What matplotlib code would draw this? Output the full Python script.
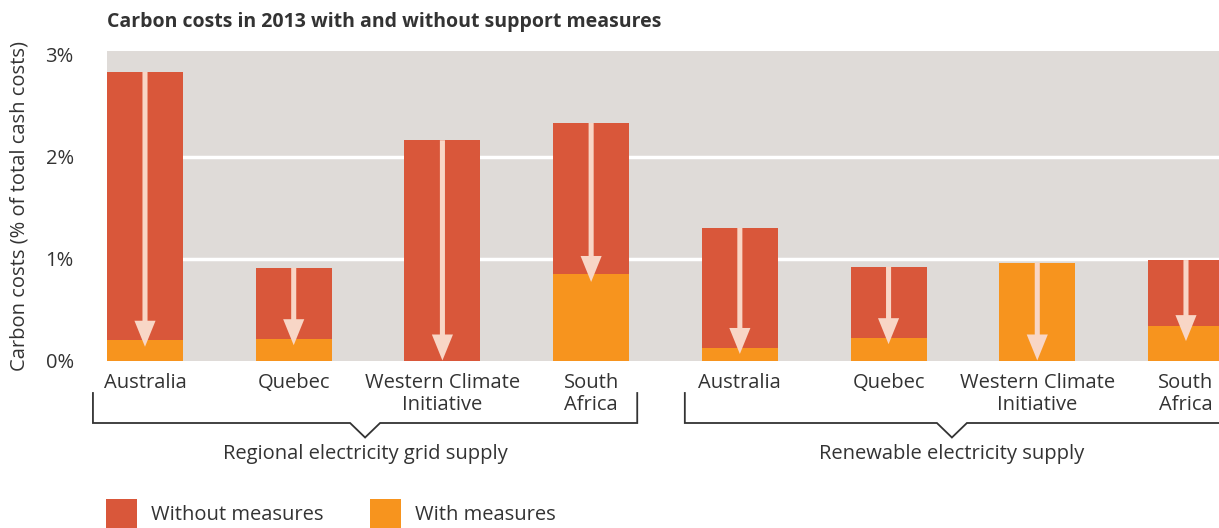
import matplotlib
matplotlib.use('Agg')
import matplotlib.pyplot as plt
import matplotlib.transforms as transforms
from matplotlib.patches import Rectangle, FancyArrow

plt.rcParams['font.family'] = ['Open Sans', 'DejaVu Sans']

categories = ['Australia', 'Quebec', 'Western Climate\nInitiative', 'South\nAfrica',
              'Australia', 'Quebec', 'Western Climate\nInitiative', 'South\nAfrica']
without_measures = [2.83, 0.91, 2.16, 2.33, 1.30, 0.92, 0.96, 0.985]
with_measures = [0.20, 0.21, 0.0, 0.85, 0.12, 0.22, 0.96, 0.34]
# where each arrow tip lands
arrow_end = [0.135, 0.15, 0.0, 0.77, 0.064, 0.16, 0.0, 0.19]
groups = ['Regional electricity grid supply', 'Renewable electricity supply']
yticks = [0, 1, 2, 3]
ytick_labels = ['0%', '1%', '2%', '3%']

red = '#d9573a'
orange = '#f7941e'
bg = '#dfdbd8'
arrow_c = '#f8d6c6'
txt = '#333333'
fs = 14.5

W, H = 1219, 528
fig = plt.figure(figsize=(W / 100, H / 100), dpi=100)
ax = fig.add_axes([107 / W, (H - 360.5) / H, (W - 107) / W, 309.5 / H])
ax.set_facecolor(bg)

x = list(range(len(categories)))
bw = 0.511
ax.bar(x, without_measures, width=bw, color=red, zorder=2)
ax.bar(x, with_measures, width=bw, color=orange, zorder=3)

ax.set_xlim(-0.2555, 7.222)
ax.set_ylim(0, 3.035)
ax.set_yticks(yticks)
ax.set_yticklabels(ytick_labels)
for yv in yticks[1:-1]:
    ax.axhline(yv, color='white', linewidth=2.5, zorder=1)
for s in ax.spines.values():
    s.set_visible(False)
ax.tick_params(axis='y', length=0, pad=24, labelsize=fs, labelcolor=txt)
ax.set_xticks(x)
ax.set_xticklabels(categories, fontsize=fs, color=txt, linespacing=1.1)
ax.tick_params(axis='x', length=0, pad=9)
ax.set_ylabel('Carbon costs (% of total cash costs)', fontsize=14.5, color=txt)
ax.yaxis.set_label_coords(-77 / (W - 107), 0.5)

# arrows from top of bar down to the with-measures level
px_per_unit = 309.5 / 3.035
for xi, top, end in zip(x, without_measures, arrow_end):
    ax.add_patch(FancyArrow(xi, top, 0, end - top, width=0.034, head_width=0.142,
                            head_length=26 / px_per_unit, length_includes_head=True,
                            color=arrow_c, linewidth=0, zorder=4))

# group brackets
tr = transforms.blended_transform_factory(ax.transData, fig.transFigure)
def fy(p):
    return (H - p) / H
brackets = [(-0.35, 3.31), (3.63, 7.3)]
for (l, r), name in zip(brackets, groups):
    rr = min(r, 7.222)
    c = (l + rr) / 2
    hw = 15 / 148.7
    xs = [l, l, c - hw, c, c + hw, r, r]
    ys = [fy(393), fy(423), fy(423), fy(437.5), fy(423), fy(423), fy(393)]
    ax.plot(xs, ys, color=txt, linewidth=1.3, transform=tr, clip_on=False,
            solid_joinstyle='miter')
    ax.text(c, fy(454), name, transform=tr, ha='center', va='center',
            fontsize=fs, color=txt)

fig.text(107 / W, fy(22), 'Carbon costs in 2013 with and without support measures',
         fontsize=14, fontweight='bold', color=txt, ha='left', va='center')

# legend
fig.add_artist(Rectangle((106 / W, fy(528)), 31 / W, 29 / H, transform=fig.transFigure,
                         color=red, linewidth=0))
fig.text(151 / W, fy(515), 'Without measures', fontsize=fs, color=txt, va='center')
fig.add_artist(Rectangle((370 / W, fy(528)), 31 / W, 29 / H, transform=fig.transFigure,
                         color=orange, linewidth=0))
fig.text(415 / W, fy(515), 'With measures', fontsize=fs, color=txt, va='center')

fig.savefig('out.png', dpi=100)
